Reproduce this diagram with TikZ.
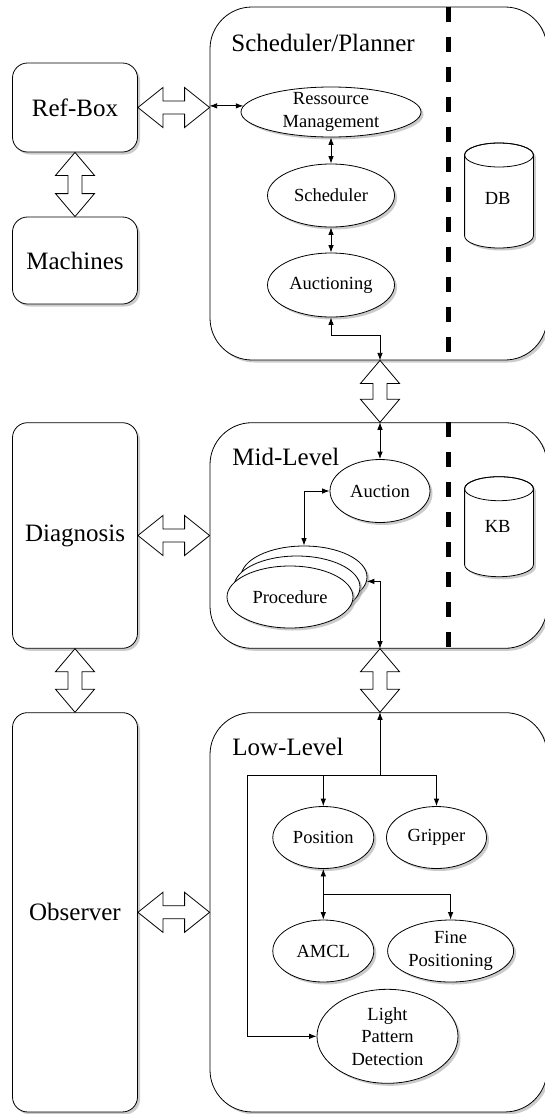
\documentclass[tikz,border=0pt]{standalone}
\usepackage{fontspec}
\setmainfont{Liberation Serif}
\usetikzlibrary{arrows.meta,shadows,calc,shapes.geometric}
\newcommand\harrow[2]{\draw[barrow] (#1) -- ($(#1)+(25,-20)$) -- ($(#1)+(25,-6.5)$) -- ($(#2)+(-25,-6.5)$) -- ($(#2)+(-25,-20)$) -- (#2) -- ($(#2)+(-25,20)$) -- ($(#2)+(-25,6.5)$) -- ($(#1)+(25,6.5)$) -- ($(#1)+(25,20)$) -- cycle;}
\newcommand\varrow[2]{\draw[barrow] (#1) -- ($(#1)+(-19.5,23)$) -- ($(#1)+(-7,23)$) -- ($(#2)+(-7,-23)$) -- ($(#2)+(-19.5,-23)$) -- (#2) -- ($(#2)+(19.5,-23)$) -- ($(#2)+(7,-23)$) -- ($(#1)+(7,23)$) -- ($(#1)+(19.5,23)$) -- cycle;}
\newcommand\cylat[3]{\draw[fill=white,shd] (#1-34.4,#2+12) -- (#1-34.4,#3-12) arc[start angle=180,end angle=0,x radius=34.4,y radius=12] -- (#1+34.4,#2+12) arc[start angle=0,end angle=-180,x radius=34.4,y radius=12] -- cycle; \draw (#1,#2+12) ellipse[x radius=34.4,y radius=12];}
\begin{document}
\begin{tikzpicture}[x=1pt,y=-1pt,
  >={Latex[length=7.5pt,width=5.5pt]},
  line width=0.8pt,
  shd/.style={drop shadow={shadow xshift=2.5pt,shadow yshift=-2.5pt,fill=black!40,opacity=0.5}},
  sbox/.style={draw,fill=white,rounded corners=15pt,inner sep=0pt,minimum width=125pt,font=\fontsize{25}{30}\selectfont,shd},
  bbox/.style={draw,fill=white,rounded corners=42pt,inner sep=0pt,minimum width=337pt,shd},
  ell/.style={draw,fill=white,ellipse,inner sep=0pt,align=center,font=\fontsize{18.5}{22.5}\selectfont,shd},
  lbl/.style={inner sep=0pt,font=\fontsize{18.5}{22.5}\selectfont},
  ttl/.style={anchor=base west,inner sep=0pt,font=\fontsize{25}{30}\selectfont},
  barrow/.style={draw,fill=white,line width=0.8pt,line join=miter},
  sep/.style={line width=5pt,dash pattern=on 15pt off 15pt},
]
\useasboundingbox (0,0) rectangle (545,1114);
% boxes
\node[sbox,minimum height=89pt] (ref) at (75,107.5) {Ref-Box};
\node[sbox,minimum height=87pt] (mach) at (75,260.5) {Machines};
\node[sbox,minimum height=225.6pt] (diag) at (75,535.5) {Diagnosis};
\node[sbox,minimum height=399.3pt] (obs) at (75,912.3) {Observer};
\node[bbox,minimum height=353pt] (sched) at (378.5,183.5) {};
\node[bbox,minimum height=225.6pt] (mid) at (378.5,535.5) {};
\node[bbox,minimum height=399.3pt] (low) at (378.5,912.3) {};
% titles
\node[ttl] (tsched) at (231,51) {Scheduler/Planner};
\node[ttl] (tmid) at (232,465) {Mid-Level};
\node[ttl] (tlow) at (232,755) {Low-Level};
% separators
\coordinate (sx) at (448.4,0);
\draw[sep] (sched.north -| sx) -- (sched.south -| sx);
\draw[sep] (mid.north -| sx) -- (mid.south -| sx);
% databases
\cylat{499}{143}{248}
\node[lbl] (db) at (497.7,198) {DB};
\cylat{499}{476.7}{576.7}
\node[lbl] (kb) at (497.7,526) {KB};
% block arrows
\coordinate (ax) at (380,0);
\coordinate (hA1) at (ref.east);
\coordinate (hA2) at (ref.east -| sched.west);
\coordinate (hB1) at (diag.east);
\coordinate (hB2) at (diag.east -| mid.west);
\coordinate (hC1) at (obs.east);
\coordinate (hC2) at (obs.east -| low.west);
\coordinate (vA1) at (ref.south);
\coordinate (vA2) at (mach.north);
\coordinate (vB1) at (diag.south);
\coordinate (vB2) at (obs.north);
\coordinate (vC1) at (sched.south -| ax);
\coordinate (vC2) at (mid.north -| ax);
\coordinate (vD1) at (mid.south -| ax);
\coordinate (vD2) at (low.north -| ax);
\harrow{hA1}{hA2}
\harrow{hB1}{hB2}
\harrow{hC1}{hC2}
\varrow{vA1}{vA2}
\varrow{vB1}{vB2}
\varrow{vC1}{vC2}
\varrow{vD1}{vD2}
% ellipses
\node[ell,minimum width=180pt,minimum height=50pt,inner ysep=-3pt] (rm) at (331,112) {Ressource\\Management};
\node[ell,minimum width=127pt,minimum height=63pt] (sch) at (331,195.5) {Scheduler};
\node[ell,minimum width=127pt,minimum height=64pt] (auc) at (331,285) {Auctioning};
\node[ell,minimum width=100pt,minimum height=63pt] (auction) at (380,491) {Auction};
\node[ell,minimum width=126pt,minimum height=62pt] (procC) at (304,577) {};
\node[ell,minimum width=126pt,minimum height=62pt] (procB) at (297,587) {};
\node[ell,minimum width=126pt,minimum height=62pt] (proc) at (290,597) {Procedure};
\node[ell,minimum width=101pt,minimum height=62pt] (pos) at (323.3,837.5) {Position};
\node[ell,minimum width=100pt,minimum height=62pt] (grip) at (436.5,837.5) {Gripper};
\node[ell,minimum width=101pt,minimum height=62pt] (amcl) at (323.3,951) {AMCL};
\node[ell,minimum width=126pt,minimum height=62pt] (fine) at (450.6,951) {Fine\\Positioning};
\node[ell,minimum width=141pt,minimum height=94pt] (lpd) at (387.5,1036.3) {Light\\Pattern\\Detection};
% connectors
\draw[<->] (rm.176) -- (rm.176 -| sched.west);
\draw[<->] (rm.south) -- (sch.north);
\draw[<->] (sch.south) -- (auc.north);
\coordinate (s1) at (380,335);
\draw[<->] (auc.south) |- (s1) -- (vC1);
\draw[<->] (vC2) -- (auction.north);
\draw[<->] (auction.west) -| (procC.north);
\draw[<->] (procC.-4) -| (vD1);
\coordinate (j1) at (380,775);
\coordinate (j0) at (247.5,775);
\draw[->] (j1) -- (vD2);
\draw[->] (j0 -| grip.north) -- (j0) |- (lpd.west);
\draw[->] (j0 -| pos.north) -- (pos.north);
\draw[->] (j0 -| grip.north) -- (grip.north);
\coordinate (j2) at (323.3,894.3);
\draw[<->] (pos.south) -- (amcl.north);
\draw[->] (j2) -| (fine.north);
\end{tikzpicture}
\end{document}
